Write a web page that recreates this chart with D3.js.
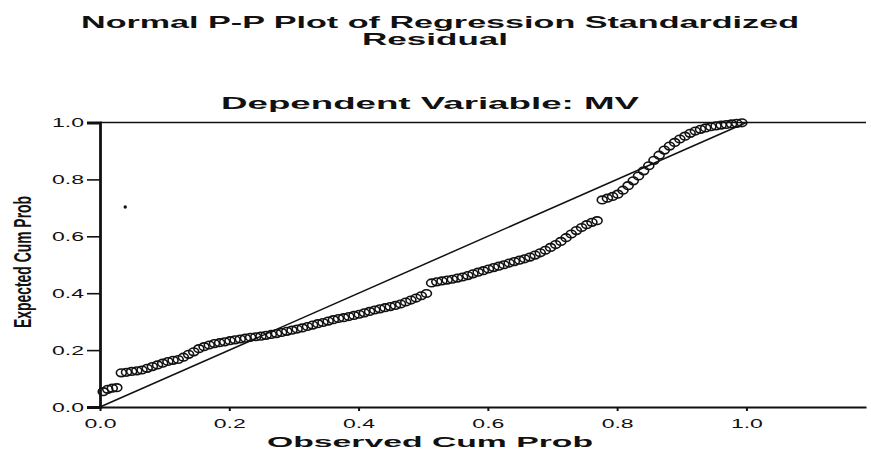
<!DOCTYPE html>
<html>
<head>
<meta charset="utf-8">
<script src="https://cdn.jsdelivr.net/npm/d3@7"></script>
<style>
  body { margin: 0; background: #fff; }
  text { font-family: "Liberation Sans", Arial, sans-serif; fill: #111; }
</style>
</head>
<body>
<div id="chart"></div>
<script>
// titles and axis labels
let titleLines = ['Normal P-P Plot of Regression Standardized', 'Residual'];
let subTitle = 'Dependent Variable: MV';
let xLabel = 'Observed Cum Prob';
let yLabel = 'Expected Cum Prob';

let xTicks = [0, 0.2, 0.4, 0.6, 0.8, 1.0];
let yTicks = [0, 0.2, 0.4, 0.6, 0.8, 1.0];

// points (observed, expected)
let obsCumProb = [
  0.005, 0.012, 0.019, 0.026, 0.033, 0.041, 0.049, 0.057, 0.065, 0.073,
  0.081, 0.089, 0.097, 0.105, 0.113, 0.121, 0.129, 0.137, 0.145, 0.153,
  0.161, 0.169, 0.177, 0.185, 0.193, 0.201, 0.209, 0.217, 0.225, 0.233,
  0.241, 0.249, 0.257, 0.265, 0.273, 0.281, 0.289, 0.297, 0.305, 0.313,
  0.321, 0.329, 0.337, 0.345, 0.353, 0.361, 0.369, 0.377, 0.385, 0.393,
  0.401, 0.409, 0.417, 0.425, 0.433, 0.441, 0.449, 0.457, 0.465, 0.473,
  0.481, 0.489, 0.497, 0.505, 0.513, 0.521, 0.529, 0.537, 0.545, 0.553,
  0.561, 0.569, 0.577, 0.585, 0.593, 0.601, 0.609, 0.617, 0.625, 0.633,
  0.641, 0.649, 0.657, 0.665, 0.673, 0.681, 0.689, 0.697, 0.705, 0.713,
  0.721, 0.729, 0.737, 0.745, 0.753, 0.761, 0.769, 0.777, 0.785, 0.793,
  0.801, 0.809, 0.817, 0.825, 0.833, 0.841, 0.849, 0.857, 0.865, 0.873,
  0.881, 0.889, 0.897, 0.905, 0.913, 0.921, 0.929, 0.937, 0.945, 0.953,
  0.961, 0.969, 0.977, 0.985, 0.993];
let expCumProb = [
  0.054, 0.062, 0.066, 0.068, 0.120, 0.122, 0.125, 0.127, 0.130, 0.136,
  0.142, 0.148, 0.154, 0.160, 0.164, 0.167, 0.175, 0.185, 0.194, 0.205,
  0.212, 0.218, 0.223, 0.226, 0.229, 0.233, 0.236, 0.239, 0.242, 0.245,
  0.247, 0.249, 0.252, 0.255, 0.258, 0.262, 0.266, 0.270, 0.274, 0.278,
  0.283, 0.288, 0.293, 0.297, 0.302, 0.307, 0.311, 0.314, 0.318, 0.322,
  0.326, 0.331, 0.336, 0.341, 0.345, 0.349, 0.353, 0.357, 0.362, 0.369,
  0.376, 0.383, 0.391, 0.399, 0.436, 0.440, 0.443, 0.446, 0.449, 0.453,
  0.457, 0.462, 0.468, 0.474, 0.479, 0.485, 0.490, 0.495, 0.500, 0.506,
  0.511, 0.516, 0.521, 0.527, 0.534, 0.542, 0.551, 0.561, 0.571, 0.582,
  0.595, 0.608, 0.620, 0.631, 0.641, 0.649, 0.655, 0.728, 0.734, 0.740,
  0.748, 0.762, 0.778, 0.795, 0.812, 0.830, 0.848, 0.867, 0.885, 0.903,
  0.917, 0.930, 0.942, 0.952, 0.962, 0.970, 0.976, 0.981, 0.985, 0.988,
  0.991, 0.993, 0.995, 0.997, 0.999];

// the lone speck near the y axis
let strayPoint = [0.039, 0.703];

let width = 871, height = 454;
let plot = { left: 100, right: 866, top: 122.5, bottom: 407 };

let svg = d3.select('#chart').
append('svg').
attr('width', width).
attr('height', height);

let x = d3.scaleLinear().
domain([0, 1.185]).
range([plot.left, plot.right]);

let y = d3.scaleLinear().
domain([0, 1]).
range([plot.bottom, plot.top]);

//titles (the source is stretched sideways, so fix the text widths)
svg.append('text').
attr('x', 440).attr('y', 28).
attr('text-anchor', 'middle').
attr('font-size', 16.5).attr('font-weight', 'bold').
attr('textLength', 718).attr('lengthAdjust', 'spacingAndGlyphs').
text(titleLines[0]);

svg.append('text').
attr('x', 435).attr('y', 45).
attr('text-anchor', 'middle').
attr('font-size', 16.5).attr('font-weight', 'bold').
attr('textLength', 146).attr('lengthAdjust', 'spacingAndGlyphs').
text(titleLines[1]);

svg.append('text').
attr('x', 430).attr('y', 109).
attr('text-anchor', 'middle').
attr('font-size', 16.5).attr('font-weight', 'bold').
attr('textLength', 418).attr('lengthAdjust', 'spacingAndGlyphs').
text(subTitle);

//frame: top line only, axes drawn below
svg.append('line').
attr('x1', plot.left).attr('x2', plot.right).
attr('y1', plot.top).attr('y2', plot.top).
attr('stroke', '#111').attr('stroke-width', 1.3);

//y axis
let yAxis = svg.append('g').
attr('transform', 'translate(' + plot.left + ',0)').
call(d3.axisLeft(y).tickValues(yTicks).tickFormat(d3.format('.1f')).tickSize(13).tickPadding(3));
yAxis.select('.domain').attr('stroke', '#111').attr('stroke-width', 2.8);
yAxis.selectAll('.tick line').attr('stroke', '#111').attr('stroke-width', 1.6);
yAxis.selectAll('.tick text').
attr('font-size', 12).attr('fill', '#111').
attr('textLength', 32).attr('lengthAdjust', 'spacingAndGlyphs').
attr('dy', '0.36em');

//x axis
let xAxis = svg.append('g').
attr('transform', 'translate(0,' + plot.bottom + ')').
call(d3.axisBottom(x).tickValues(xTicks).tickFormat(d3.format('.1f')).tickSizeInner(4).tickSizeOuter(0).tickPadding(8));
xAxis.select('.domain').attr('stroke', '#111').attr('stroke-width', 2);
xAxis.selectAll('.tick line').attr('stroke', '#111').attr('stroke-width', 2);
xAxis.selectAll('.tick text').
attr('font-size', 12).attr('fill', '#111').
attr('textLength', 32).attr('lengthAdjust', 'spacingAndGlyphs');

//axis titles
svg.append('text').
attr('x', 430).attr('y', 447).
attr('text-anchor', 'middle').
attr('font-size', 15).attr('font-weight', 'bold').
attr('textLength', 326).attr('lengthAdjust', 'spacingAndGlyphs').
text(xLabel);

svg.append('g').
attr('transform', 'translate(31,262) scale(1.45,1) rotate(-90)').
append('text').
attr('text-anchor', 'middle').
attr('font-size', 17).
attr('font-family', '"Liberation Sans Narrow", "Liberation Sans", Arial, sans-serif').
attr('font-weight', 'bold').
attr('textLength', 132).attr('lengthAdjust', 'spacingAndGlyphs').
text(yLabel);

//reference diagonal
svg.append('line').
attr('x1', x(0)).attr('y1', y(0)).
attr('x2', x(1)).attr('y2', y(1)).
attr('stroke', '#111').attr('stroke-width', 1.5);

//points (drawn as wide rings like the scan)
svg.selectAll('.pt').
data(d3.zip(obsCumProb, expCumProb)).
enter().
append('ellipse').
attr('class', 'pt').
attr('cx', d => x(d[0])).
attr('cy', d => y(d[1])).
attr('rx', 5).
attr('ry', 3.8).
attr('fill', 'none').
attr('stroke', '#111').
attr('stroke-width', 1.6);

svg.append('circle').
attr('cx', x(strayPoint[0])).
attr('cy', y(strayPoint[1])).
attr('r', 1.7).
attr('fill', '#111');
</script>
</body>
</html>
